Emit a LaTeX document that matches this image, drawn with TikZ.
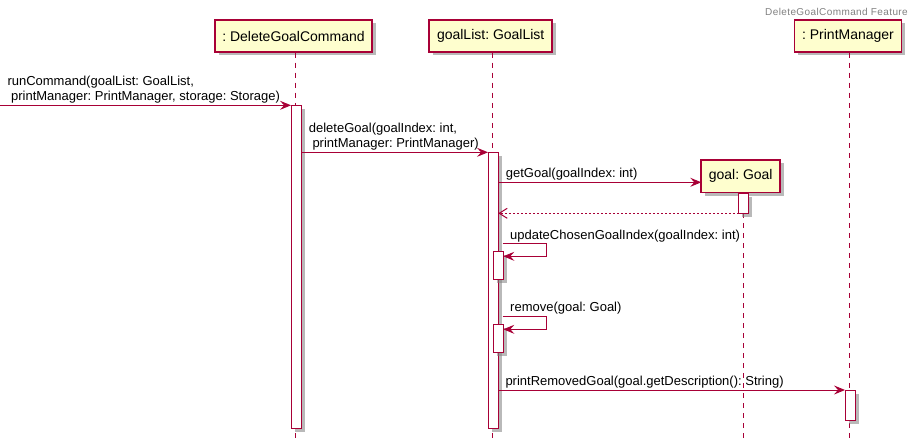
\documentclass[tikz,border=0pt]{standalone}
\usepackage{fontspec}
\setmainfont{Liberation Sans}
\newfontfamily\titlefont[LetterSpace=4]{Liberation Sans}
\usetikzlibrary{arrows.meta,shadows}
\frenchspacing

\definecolor{umlred}{HTML}{A80036}
\definecolor{umlfill}{HTML}{FEFECE}

\tikzstyle{participant} = [draw=umlred,fill=umlfill,line width=1.5pt,minimum height=32pt,inner sep=0pt,font=\fontsize{14}{16}\selectfont,drop shadow={shadow xshift=3.5pt,shadow yshift=-3.5pt,fill=black!50,opacity=.55}]
\tikzstyle{activation} = [draw=umlred,fill=white,line width=1pt,minimum width=9.5pt,inner sep=0pt,anchor=north,drop shadow={shadow xshift=3.5pt,shadow yshift=-3.5pt,fill=black!50,opacity=.55}]
\tikzstyle{lifeline} = [draw=umlred,line width=1pt,dash pattern=on 5pt off 5pt]
\tikzstyle{msg} = [draw=umlred,line width=1pt,-{Stealth[length=11pt,width=9pt,inset=4pt]}]
\tikzstyle{reply} = [draw=umlred,line width=1pt,dash pattern=on 2pt off 2pt,-{Straight Barb[length=8pt,width=10pt]}]
\tikzstyle{msglabel} = [inner sep=0pt,anchor=base west,align=left,font=\fontsize{13}{15.5}\selectfont]

\begin{document}
\begin{tikzpicture}[x=1pt,y=-1pt]
    \useasboundingbox (0,0) rectangle (916,444);

    \coordinate (cmdEnd) at (295, 438);
    \coordinate (listEnd) at (492, 438);
    \coordinate (goalEnd) at (743, 438);
    \coordinate (printEnd) at (849, 438);

    \coordinate (runS) at (0, 105.3);
    \coordinate (delS) at (301, 152.3);
    \coordinate (getS) at (498.3, 182.3);
    \coordinate (getE) at (701.3, 182.3);
    \coordinate (retS) at (738.7, 213.3);
    \coordinate (retE) at (498.3, 213.3);
    \coordinate (updS) at (502.7, 243.3);
    \coordinate (updA) at (546, 243.3);
    \coordinate (updB) at (546, 256.3);
    \coordinate (updE) at (503.3, 256.3);
    \coordinate (remS) at (502.7, 316.3);
    \coordinate (remA) at (546, 316.3);
    \coordinate (remB) at (546, 329.3);
    \coordinate (remE) at (503.3, 329.3);
    \coordinate (prtS) at (498.3, 390);

    % participants
    \node [style=participant, minimum width=157pt] (cmd) at (293.5, 36) {: DeleteGoalCommand};
    \node [style=participant, minimum width=123pt] (list) at (490.7, 36) {goalList: GoalList};
    \node [style=participant, minimum width=107pt] (print) at (848, 36) {: PrintManager};

    \draw [style=lifeline] (cmd.south -| cmdEnd) -- (cmdEnd);
    \draw [style=lifeline] (list.south -| listEnd) -- (listEnd);
    \draw [style=lifeline] (print.south -| printEnd) -- (printEnd);

    \node [style=participant, minimum width=79pt, minimum height=32.7pt] (goal) at (740.7, 176.3) {goal: Goal};
    \draw [style=lifeline] (goal.south -| goalEnd) -- (goalEnd);

    % activations
    \node [style=activation, minimum height=323pt] (actCmd) at (296.3, 105.3) {};
    \node [style=activation, minimum height=276pt] (actList) at (493.3, 152.3) {};
    \node [style=activation, minimum height=20.3pt] (actGoal) at (743.3, 193) {};
    \node [style=activation, minimum height=28pt] (actUpdate) at (498.3, 251) {};
    \node [style=activation, minimum height=28pt] (actRemove) at (498.3, 324) {};
    \node [style=activation, minimum height=30pt] (actPrint) at (850.3, 390) {};

    % messages
    \draw [style=msg] (runS) -- (actCmd.north west);
    \draw [style=msg] (delS) -- (actList.north west);
    \draw [style=msg] (getS) -- (getE);
    \draw [style=reply] (retS) -- (retE);
    \draw [style=msg] (updS) -- (updA) -- (updB) -- (updE);
    \draw [style=msg] (remS) -- (remA) -- (remB) -- (remE);
    \draw [style=msg] (prtS) -- (actPrint.north west);

    \node [style=msglabel] (runLbl) at (7.3, 100.7) {runCommand(goalList: GoalList,\\\ printManager: PrintManager, storage: Storage)};
    \node [style=msglabel] (delLbl) at (308.7, 147.7) {deleteGoal(goalIndex: int,\\\ printManager: PrintManager)};
    \node [style=msglabel] (getLbl) at (505.7, 177.3) {getGoal(goalIndex: int)};
    \node [style=msglabel] (updLbl) at (510, 239) {updateChosenGoalIndex(goalIndex: int)};
    \node [style=msglabel] (remLbl) at (510, 311.7) {remove(goal: Goal)};
    \node [style=msglabel] (prtLbl) at (505.3, 385.3) {printRemovedGoal(goal.getDescription(): String)};

    \node [anchor=base east, inner sep=0pt, text=black!50, font=\titlefont\fontsize{10}{12}\selectfont] (title) at (908, 15.7) {DeleteGoalCommand Feature};
\end{tikzpicture}
\end{document}
